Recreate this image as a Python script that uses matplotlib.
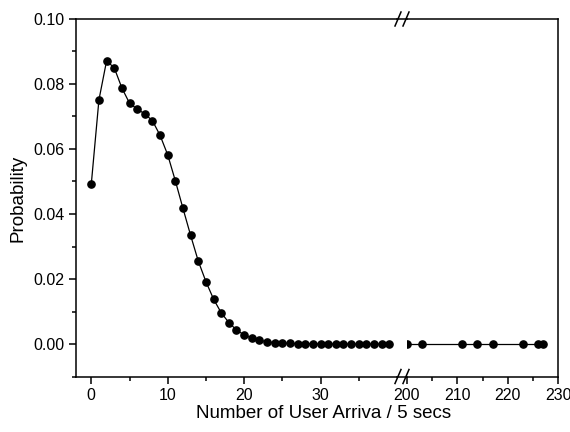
import matplotlib
matplotlib.use("Agg")
import matplotlib.pyplot as plt
from matplotlib.lines import Line2D
from matplotlib.ticker import FixedLocator

plt.rcParams['font.family'] = ['Liberation Sans', 'DejaVu Sans']

# Left segment data
x_left = list(range(0, 40))
y_left = [0.0492, 0.0751, 0.0871, 0.0850, 0.0788, 0.0741, 0.0723, 0.0708, 0.0687, 0.0642,
          0.0582, 0.0502, 0.0417, 0.0334, 0.0255, 0.0192, 0.0138, 0.0096, 0.0066, 0.0043,
          0.0028, 0.0018, 0.0011, 0.0007, 0.0004, 0.0003, 0.0002, 0.0001, 0.0001, 0.0001,
          0.0000, 0.0000, 0.0000, 0.0000, 0.0000, 0.0000, 0.0000, 0.0000, 0.0000, 0.0000]
# Right segment data
x_right = [200, 203, 211, 214, 217, 223, 226, 227]
y_right = [0.0, 0.0, 0.0, 0.0, 0.0, 0.0, 0.0, 0.0]

left_major = [0, 10, 20, 30]
left_minor = [5, 15, 25, 35]
right_major = [200, 210, 220, 230]
right_minor = [205, 215, 225]
y_major = [0.0, 0.02, 0.04, 0.06, 0.08, 0.10]
y_labels = ['0.00', '0.02', '0.04', '0.06', '0.08', '0.10']
y_minor = [-0.01, 0.01, 0.03, 0.05, 0.07, 0.09]

W, H = 570, 432
fig = plt.figure(figsize=(W / 100, H / 100), dpi=100)

left_px, mid1_px, mid2_px, right_px = 76, 397, 407, 558
top_px, bot_px = 19, 376.5
b = 1 - bot_px / H
h = (bot_px - top_px) / H
ax1 = fig.add_axes([left_px / W, b, (mid1_px - left_px) / W, h])
ax2 = fig.add_axes([mid2_px / W, b, (right_px - mid2_px) / W, h], sharey=ax1)

ax1.plot(x_left, y_left, color='black', lw=0.9, marker='o', ms=5.2, mfc='black', mec='black')
ax2.plot(x_right, y_right, color='black', lw=0.9, marker='o', ms=5.2, mfc='black', mec='black')

for ax in (ax1, ax2):
    ax.set_ylim(-0.01, 0.10)
    for s in ax.spines.values():
        s.set_linewidth(1.1)
    ax.tick_params(axis='both', which='major', direction='out', length=5, width=1.1,
                   labelsize=11.5, pad=3.5)
    ax.tick_params(axis='both', which='minor', direction='out', length=3, width=1.1)

ax1.set_xlim(-2, 40)
ax1.xaxis.set_major_locator(FixedLocator(left_major))
ax1.xaxis.set_minor_locator(FixedLocator(left_minor))
ax1.yaxis.set_major_locator(FixedLocator(y_major))
ax1.yaxis.set_minor_locator(FixedLocator(y_minor))
ax1.set_yticklabels(y_labels)
ax1.spines['right'].set_visible(False)

ax2.set_xlim(200, 230)
ax2.xaxis.set_major_locator(FixedLocator(right_major))
ax2.xaxis.set_minor_locator(FixedLocator(right_minor))
ax2.spines['left'].set_visible(False)
ax2.tick_params(axis='y', which='both', left=False, labelleft=False)

fig.text(18 / W, 1 - 198 / H, 'Probability', rotation=90, ha='center', va='center',
         fontsize=13.5)
fig.text(324 / W, 1 - 413 / H, 'Number of User Arriva / 5 secs',
         ha='center', va='center', fontsize=13.5)

# bridge spines and break marks
for ypx in (top_px, bot_px):
    yf = 1 - ypx / H
    fig.add_artist(Line2D([mid1_px / W, mid2_px / W], [yf, yf], color='black', lw=1.1))
    for cx in (mid1_px + 1, mid2_px - 1):
        fig.add_artist(Line2D([(cx - 3) / W, (cx + 3) / W], [yf - 7 / H, yf + 7 / H],
                              color='black', lw=1.1))

fig.savefig('out.png', dpi=100)
